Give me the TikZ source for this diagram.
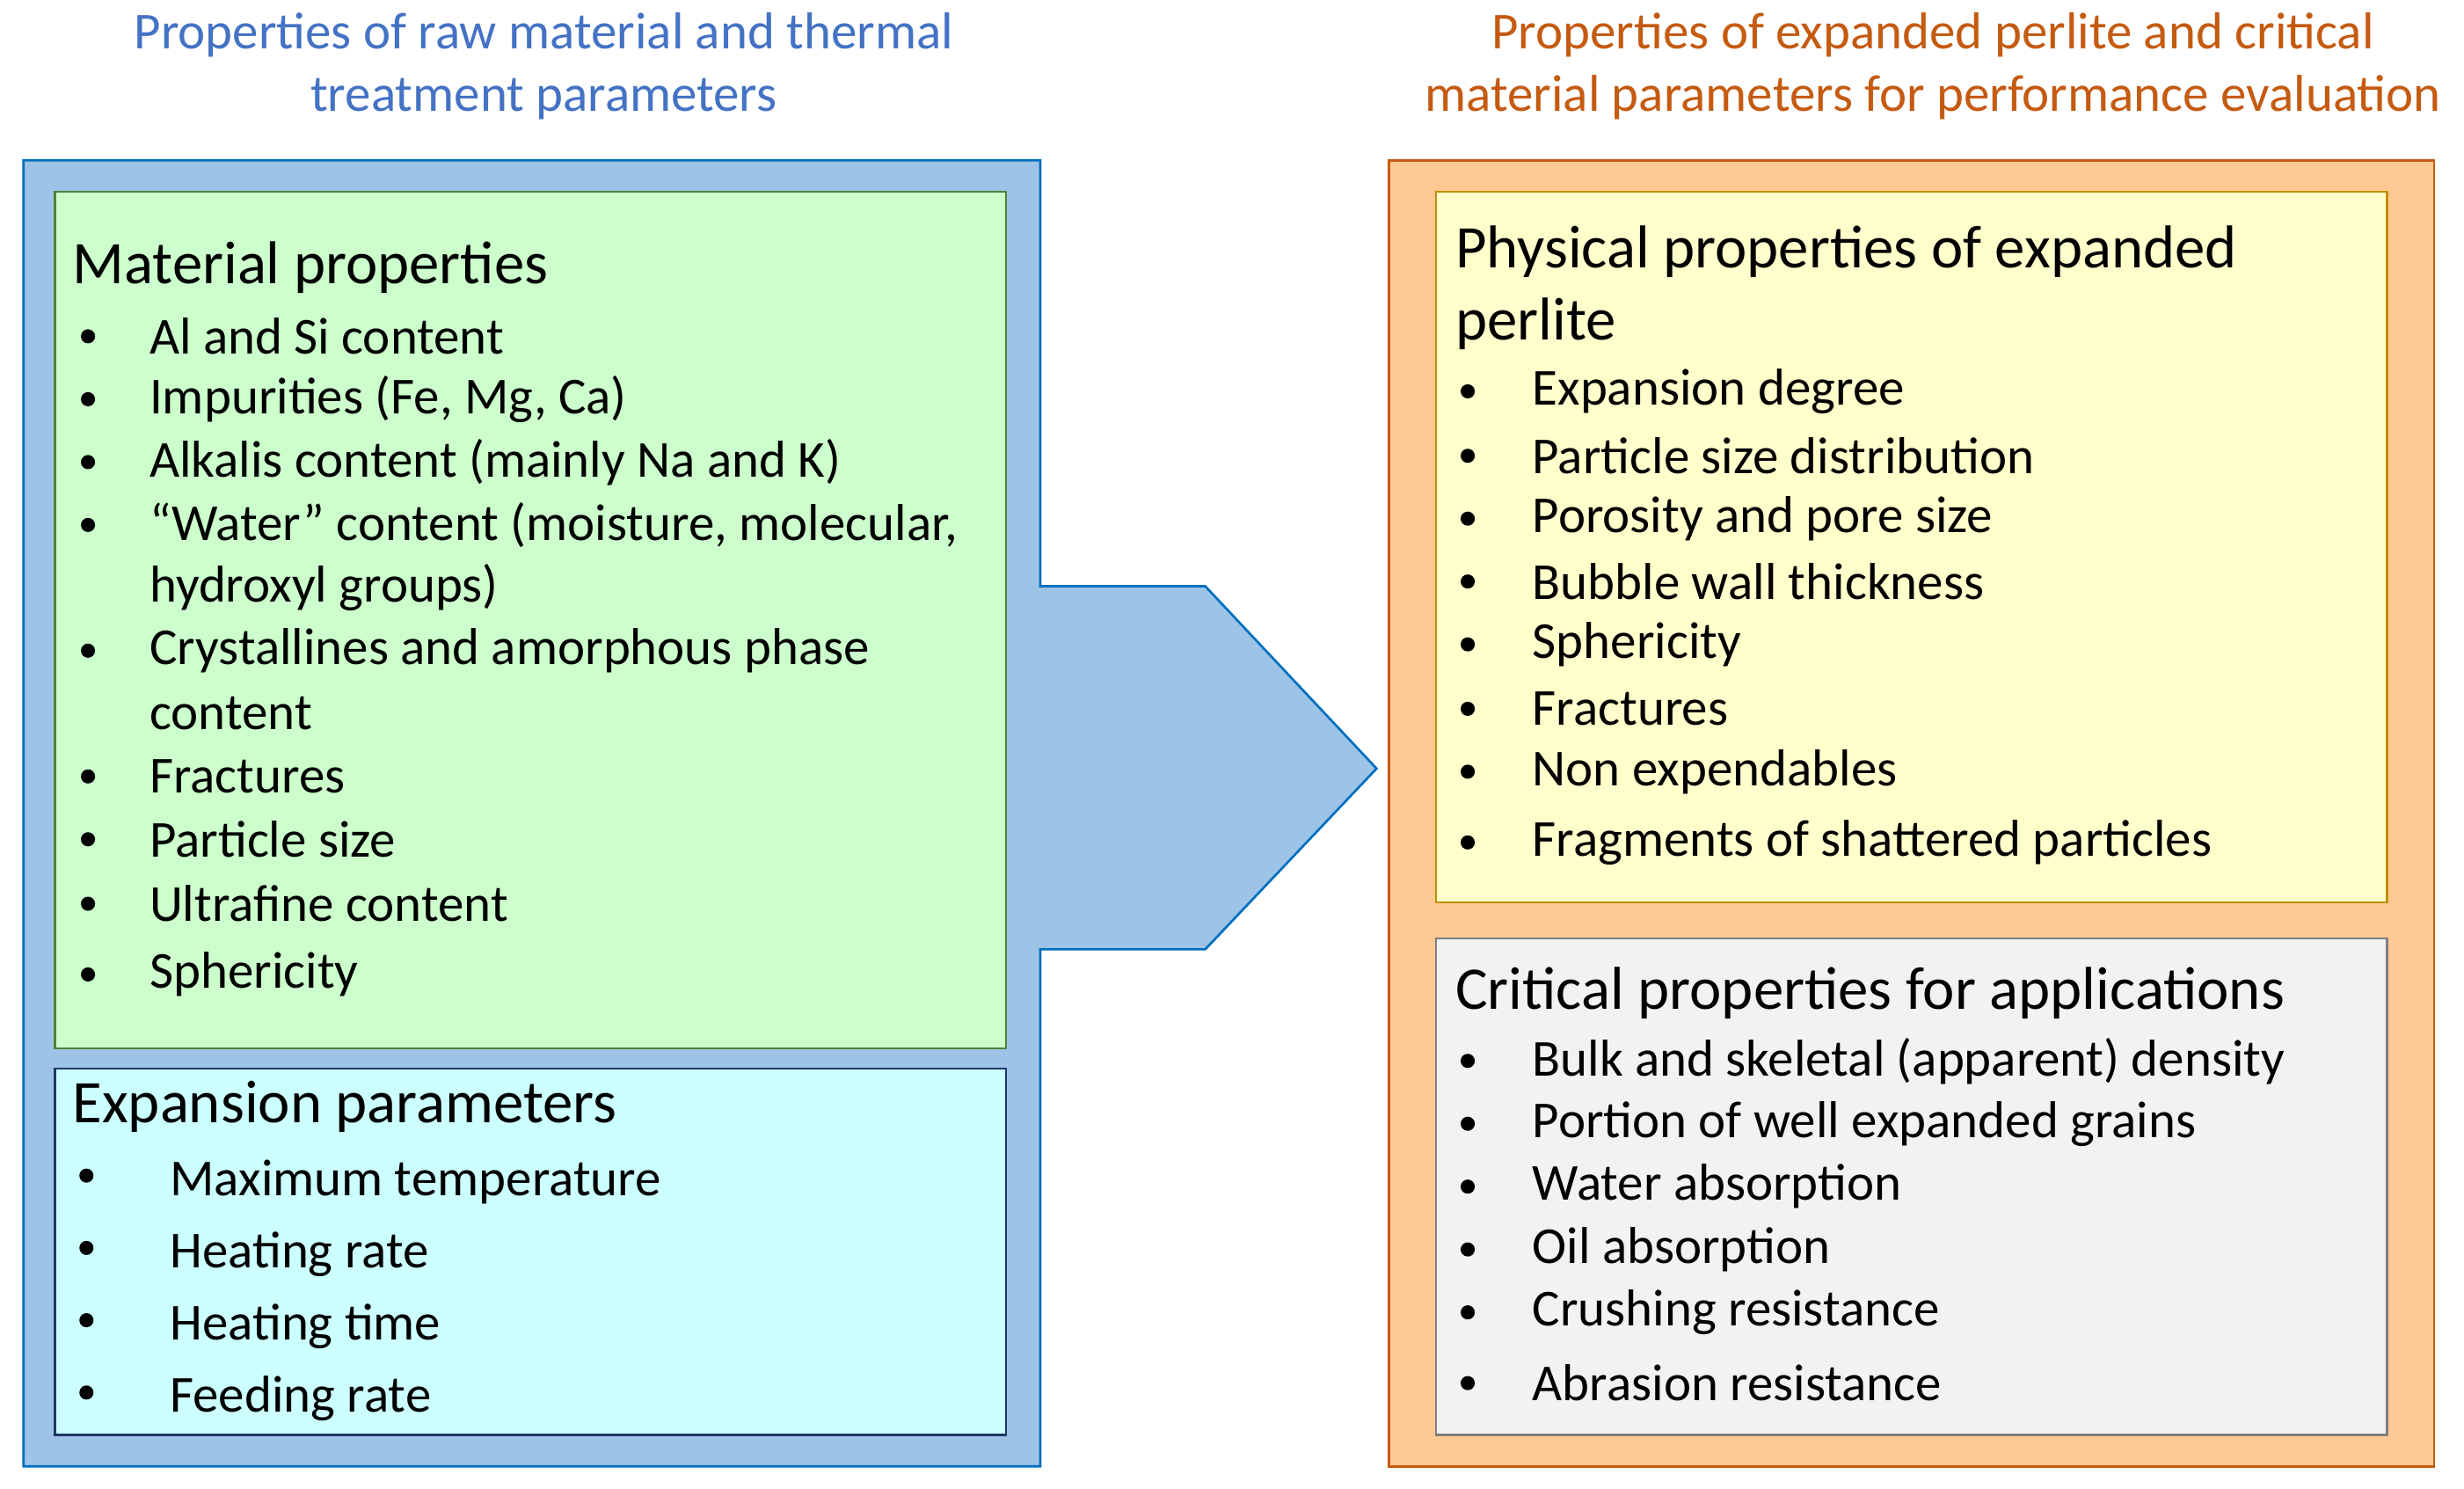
\documentclass[tikz,border=0pt]{standalone}
\usepackage{fontspec}
\setmainfont{Carlito}
\begin{document}
\begin{tikzpicture}[x=1pt,y=-1pt,
 body/.style={anchor=west,inner sep=0pt,font=\fontsize{33}{36}\selectfont},
 head/.style={anchor=west,inner sep=0pt,font=\fontsize{38.5}{42}\selectfont},
 bul/.style={circle,fill=black,inner sep=0pt,minimum size=9pt},
 ttl/.style={align=center,font=\fontsize{33}{40}\selectfont}]
\useasboundingbox (0,0) rectangle (1568,947);
\definecolor{lb}{HTML}{9DC3E6}\definecolor{lbd}{HTML}{0070C0}
\definecolor{or}{HTML}{FFC993}\definecolor{ord}{HTML}{C55A11}
\draw[fill=lb,draw=lbd,line width=1.5pt] (15,102) -- (662,102) -- (662,373) -- (767,373) -- (876,489) -- (767,604) -- (662,604) -- (662,933) -- (15,933) -- cycle;
\draw[fill=or,draw=ord,line width=1.5pt] (884,102) rectangle (1549,933);
\draw[fill={rgb,255:red,204;green,255;blue,204},draw={rgb,255:red,84;green,130;blue,53},line width=1.2pt] (35,122) rectangle (640,667);
\draw[fill={rgb,255:red,204;green,255;blue,255},draw={rgb,255:red,31;green,56;blue,100},line width=1.2pt] (35,680) rectangle (640,913);
\draw[fill={rgb,255:red,255;green,255;blue,204},draw={rgb,255:red,191;green,144;blue,0},line width=1.2pt] (914,122) rectangle (1519,574);
\draw[fill={rgb,255:red,242;green,242;blue,242},draw={rgb,255:red,127;green,127;blue,127},line width=1.2pt] (914,597) rectangle (1519,913);
\node[ttl,text={rgb,255:red,68;green,114;blue,196}] (t1) at (346,42) {Properties of raw material and thermal\\treatment parameters};
\node[ttl,text=ord] (t2) at (1230,42) {Properties of expanded perlite and critical\\material parameters for performance evaluation};
% green
\node[head] (g0) at (46,170) {Material properties};
\foreach \y/\t [count=\i] in {214/Al and Si content,254/{Impurities (Fe, Mg, Ca)},294/Alkalis content (mainly Na and K),334/{“Water” content (moisture, molecular,},414/Crystallines and amorphous phase,494/Fractures,534/Particle size,575/Ultrafine content,620/Sphericity}
 {\node[bul] (gb\i) at (56,\y) {}; \node[body] (g\i) at (95,\y) {\t};}
\node[body] (g4b) at (95,374) {hydroxyl groups)};
\node[body] (g5b) at (95,454) {content};
% cyan
\node[head] (c0) at (46,704) {Expansion parameters};
\foreach \y/\t [count=\i] in {752/Maximum temperature,798/Heating rate,844/Heating time,890/Feeding rate}
 {\node[bul] (cb\i) at (55,\y-4) {}; \node[body] (c\i) at (108,\y) {\t};}
% yellow
\node[head] (y0) at (926,160) {Physical properties of expanded};
\node[head] (y0b) at (926,206) {perlite};
\foreach \y/\t [count=\i] in {249/Expansion degree,290/Particle size distribution,330/Porosity and pore size,370/Bubble wall thickness,410/Sphericity,451/Fractures,491/Non expendables,536/Fragments of shattered particles}
 {\node[bul] (yb\i) at (934,\y) {}; \node[body] (y\i) at (975,\y) {\t};}
% gray
\node[head] (r0) at (926,632) {Critical properties for applications};
\foreach \y/\t [count=\i] in {675/Bulk and skeletal (apparent) density,715/Portion of well expanded grains,755/Water absorption,795/Oil absorption,835/Crushing resistance,880/Abrasion resistance}
 {\node[bul] (rb\i) at (934,\y) {}; \node[body] (r\i) at (975,\y) {\t};}
\end{tikzpicture}
\end{document}
